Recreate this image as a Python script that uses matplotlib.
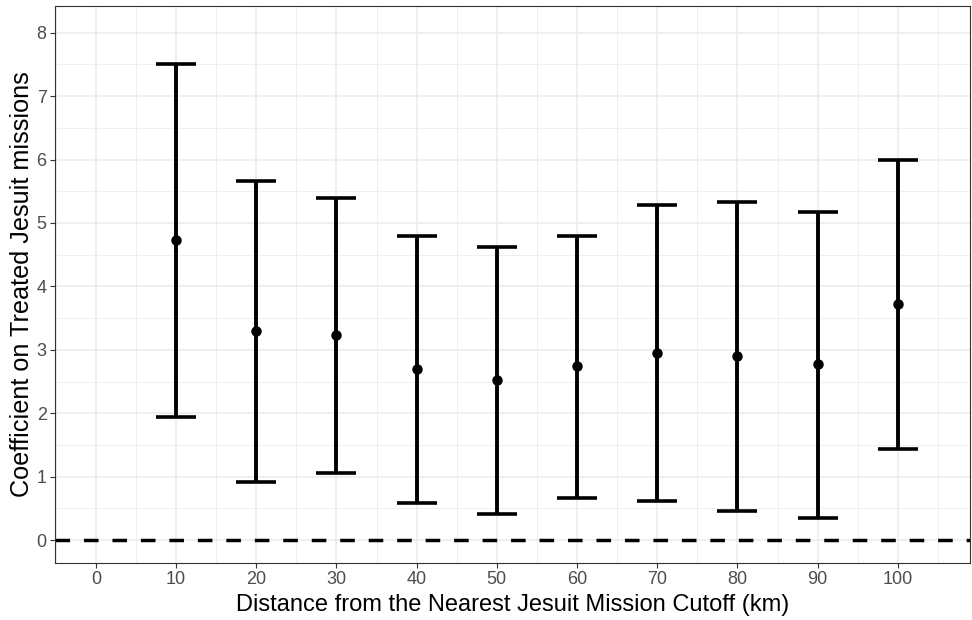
import matplotlib
matplotlib.use("Agg")
import matplotlib.pyplot as plt
import numpy as np

plt.rcParams['font.family'] = ['Liberation Sans', 'DejaVu Sans']

distance = [10, 20, 30, 40, 50, 60, 70, 80, 90, 100]
estimate = [4.73, 3.30, 3.23, 2.70, 2.52, 2.74, 2.95, 2.90, 2.78, 3.73]
upper = [7.51, 5.66, 5.39, 4.80, 4.62, 4.80, 5.28, 5.33, 5.18, 6.00]
lower = [1.94, 0.91, 1.06, 0.58, 0.41, 0.66, 0.62, 0.46, 0.35, 1.44]
xticks = [0, 10, 20, 30, 40, 50, 60, 70, 80, 90, 100]
yticks = [0, 1, 2, 3, 4, 5, 6, 7, 8]

W, H = 972, 620
fig = plt.figure(figsize=(W / 100, H / 100), dpi=100)
ax = fig.add_axes([55 / W, 1 - 563 / H, (970 - 55) / W, (563 - 6) / H])

ax.set_xlim(-5.1, 109.0)
ax.set_ylim(-0.36, 8.42)

# grid
for v in np.arange(-5, 110, 5):
    major = (v % 10 == 0)
    ax.axvline(v, color='#EBEBEB', lw=1.1 if major else 0.55, zorder=0)
for v in np.arange(0, 8.6, 0.5):
    major = (abs(v - round(v)) < 1e-9)
    ax.axhline(v, color='#EBEBEB', lw=1.1 if major else 0.55, zorder=0)

ax.axhline(0, color='black', lw=2.5, linestyle=(0, (4.2, 4.0)), zorder=2)

est = np.array(estimate)
up = np.array(upper)
lo = np.array(lower)
ax.errorbar(distance, est, yerr=[est - lo, up - est], fmt='none', ecolor='black',
            elinewidth=2.8, capsize=14.4, capthick=2.6, zorder=3)
ax.plot(distance, est, 'o', color='black', markersize=6.5, zorder=4)

ax.set_xticks(xticks)
ax.set_yticks(yticks)
ax.tick_params(axis='both', colors='#333333', labelcolor='#4D4D4D', labelsize=13,
               length=3.5, width=0.8, pad=2.5)
for s in ax.spines.values():
    s.set_color('#333333')
    s.set_linewidth(0.8)

ax.set_xlabel('Distance from the Nearest Jesuit Mission Cutoff (km)', fontsize=17.0,
              color='black', labelpad=4)
ax.set_ylabel('Coefficient on Treated Jesuit missions', fontsize=18.2,
              color='black', labelpad=2)

fig.savefig('out.png', dpi=100)
